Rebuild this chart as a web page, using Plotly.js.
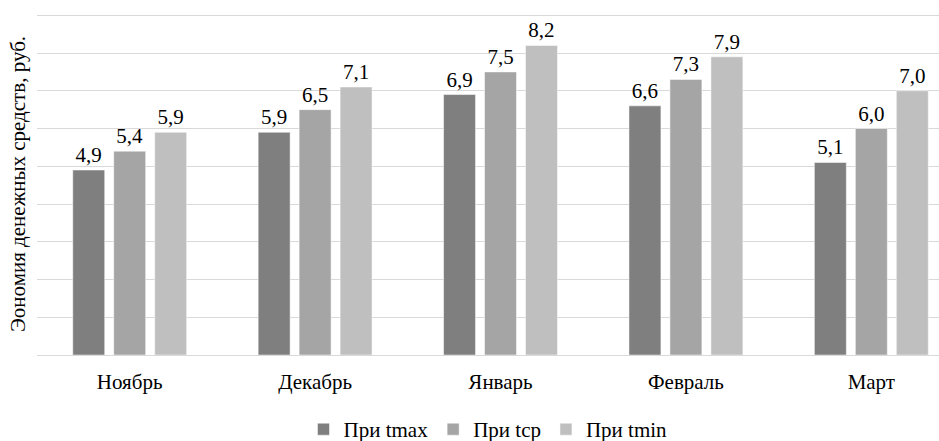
<!DOCTYPE html>
<html><head><meta charset="utf-8">
<script src="https://cdn.plot.ly/plotly-3.0.1.min.js"></script>
</head><body style="margin:0;padding:0;background:#fff">
<div id="chart" style="width:939px;height:441px"></div>
<script>
const months = ["Ноябрь", "Декабрь", "Январь", "Февраль", "Март"];
const tmaxVals = [4.9, 5.9, 6.9, 6.6, 5.1];
const tcpVals = [5.4, 6.5, 7.5, 7.3, 6.0];
const tminVals = [5.9, 7.1, 8.2, 7.9, 7.0];
const seriesNames = ["При tmax", "При tcp", "При tmin"];
const barColors = ["#7f7f7f", "#a5a5a5", "#bfbfbf"];
const traces = [tmaxVals, tcpVals, tminVals].map((v, i) => ({
  type: "bar", x: months, y: v, name: seriesNames[i],
  marker: {color: barColors[i], line: {color: "#ffffff", width: 0.5}},
  text: v.map(n => n.toFixed(1).replace(".", ",")),
  textposition: "outside", cliponaxis: false,
  textfont: {family: "Liberation Serif", size: 21, color: "#000"},
  hoverinfo: "none"
}));
Plotly.newPlot("chart", traces, {
  width: 939, height: 441,
  margin: {l: 37, r: 0, t: 13, b: 86, autoexpand: false},
  paper_bgcolor: "#fff", plot_bgcolor: "#fff",
  font: {family: "Liberation Serif", size: 21, color: "#000"},
  barmode: "group", bargap: 0.337, bargroupgap: 0.22,
  showlegend: true,
  legend: {orientation: "h", x: 0.5, xanchor: "center", y: -0.158, yanchor: "top",
           font: {family: "Liberation Serif", size: 21, color: "#000"}, tracegroupgap: 0},
  xaxis: {automargin: false, range: [-0.5, 4.365], showgrid: false, showline: false, zeroline: false,
          ticks: "outside", ticklen: 8, tickcolor: "rgba(0,0,0,0)",
          tickfont: {family: "Liberation Serif", size: 21, color: "#000"}},
  yaxis: {automargin: false, range: [0, 9.06], tickvals: [1,2,3,4,5,6,7,8,9], showticklabels: false, showgrid: true,
          gridcolor: "#d9d9d9", gridwidth: 1, zeroline: true, zerolinecolor: "#d9d9d9", zerolinewidth: 1,
          showline: false, ticks: "",
          title: {text: "Эономия денежных средств, руб.", standoff: 4,
                  font: {family: "Liberation Serif", size: 21, color: "#000"}}}
}, {staticPlot: true});
</script>
</body></html>
